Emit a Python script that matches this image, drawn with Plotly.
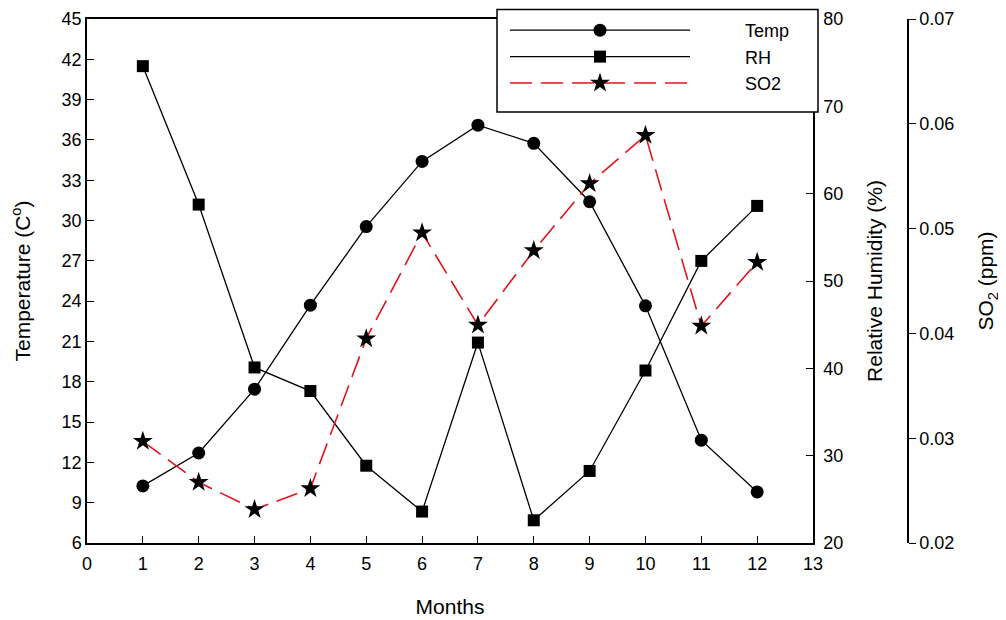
import plotly.graph_objects as go

months = list(range(1, 13))
temp = [10.25, 12.7, 17.45, 23.7, 29.55, 34.4, 37.1, 35.75, 31.4, 23.65, 13.65, 9.8]
rh = [74.6, 58.75, 40.1, 37.4, 28.85, 23.6, 42.95, 22.6, 28.25, 39.75, 52.3, 58.6]
so2 = [0.0297, 0.0258, 0.0232, 0.0252, 0.0395, 0.0496, 0.0408, 0.0479, 0.0543, 0.0589, 0.0407, 0.0468]

x_ticks = list(range(0, 14))
temp_ticks = list(range(6, 46, 3))
rh_ticks = list(range(20, 81, 10))
so2_ticks = [0.02, 0.03, 0.04, 0.05, 0.06, 0.07]

FONT = "Liberation Sans, Arial, sans-serif"
PAD = "\u00a0" * 10

fig = go.Figure()
fig.add_trace(go.Scatter(x=months, y=temp, name=PAD + "Temp", mode="lines+markers",
                         line=dict(color="black", width=1.3),
                         marker=dict(symbol="circle", size=13, color="black"),
                         yaxis="y"))
fig.add_trace(go.Scatter(x=months, y=rh, name=PAD + "RH", mode="lines+markers",
                         line=dict(color="black", width=1.3),
                         marker=dict(symbol="square", size=12, color="black"),
                         yaxis="y2"))
fig.add_trace(go.Scatter(x=months, y=so2, name=PAD + "SO2", mode="lines+markers",
                         line=dict(color="#e0141e", width=1.6, dash="22px,9px"),
                         marker=dict(symbol="star", size=15, color="black"),
                         yaxis="y3"))

# page is shown with an 8px body margin, so margins are reduced by 8
L, R, T, B = 79, 106, 11, 85
PW = 1006 - L - R  # 821
PH = 620 - T - B   # 524
dom_end = 726 / PW


def px_x(px):
    return (px - 8 - L) / PW


def px_y(py):
    return 1 - (py - 8 - T) / PH


axis_common = dict(showgrid=False, zeroline=False, showline=True, linecolor="black",
                   linewidth=1.5, ticks="inside", ticklen=7, tickcolor="black", tickwidth=1.3,
                   tickfont=dict(family=FONT, size=18, color="black"))
TFONT = dict(family=FONT, size=21, color="black")

fig.update_layout(
    width=1006, height=620,
    margin=dict(l=L, r=R, t=T, b=B, autoexpand=False),
    paper_bgcolor="white", plot_bgcolor="white",
    font=dict(family=FONT, color="black"),
    xaxis=dict(domain=[0, dom_end], range=[0, 13], tickvals=x_ticks, mirror=True,
               ticklabelstandoff=4,
               title=dict(text="Months", font=TFONT, standoff=26),
               **axis_common),
    yaxis=dict(range=[6, 45], tickvals=temp_ticks,
               title=dict(text="Temperature (C<sup>o</sup>)", font=TFONT, standoff=27),
               **axis_common),
    yaxis2=dict(range=[20, 80], tickvals=rh_ticks, overlaying="y", side="right", anchor="x",
                ticklabelstandoff=5,
                title=dict(text="Relative Humidity (%)", font=TFONT, standoff=25),
                **axis_common),
    yaxis3=dict(range=[0.02, 0.07], tickvals=so2_ticks, tickformat=".2f", overlaying="y",
                side="right", anchor="free", position=1.0,
                title=dict(text="SO<sub>2</sub> (ppm)", font=TFONT, standoff=24),
                **{**axis_common, "ticks": "outside"}),
    legend=dict(x=px_x(505), xanchor="left", y=px_y(12), yanchor="top",
                bgcolor="rgba(0,0,0,0)", borderwidth=0,
                itemwidth=180, tracegroupgap=0,
                font=dict(family=FONT, size=18, color="black")),
    showlegend=True,
    shapes=[dict(type="rect", xref="paper", yref="paper",
                 x0=px_x(497), x1=px_x(818), y0=px_y(112), y1=px_y(9.5),
                 fillcolor="white", line=dict(color="black", width=1.5), layer="above")],
)

fig.write_html("out.html")
